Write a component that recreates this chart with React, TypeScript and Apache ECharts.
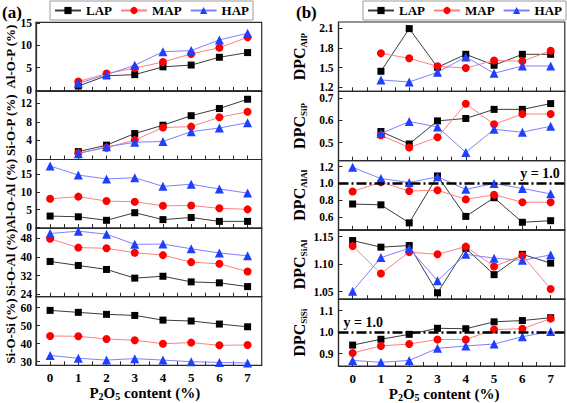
import React, { useEffect, useRef } from 'react';
import * as echarts from 'echarts';

// ---------- data ----------
const contents = [0, 1, 2, 3, 4, 5, 6, 7];
const seriesNames = ['LAP', 'MAP', 'HAP'];

// (a) bond fractions (%)
const alopLAP = [null, 0.9, 3.2, 3.45, 5.2, 5.6, 7.35, 8.4];
const alopMAP = [null, 1.9, 3.7, 4.9, 6.3, 8.1, 9.5, 11.85];
const alopHAP = [null, 1.5, 3.45, 5.55, 8.6, 8.85, 11.25, 12.75];

const siopLAP = [null, 1.6, 3.0, 5.5, 7.3, 9.35, 10.9, 12.9];
const siopMAP = [null, 1.3, 2.45, 4.1, 6.8, 7.0, 9.0, 10.2];
const siopHAP = [null, 1.15, 2.65, 3.6, 3.8, 5.9, 6.7, 7.85];

const aloalLAP = [3.2, 3.0, 2.0, 4.15, 2.2, 2.8, 1.7, 1.7];
const aloalMAP = [8.1, 8.7, 7.45, 7.25, 6.1, 6.2, 5.4, 5.1];
const aloalHAP = [17.35, 14.8, 13.7, 14.05, 11.6, 12.2, 10.85, 9.7];

const sioalLAP = [38.0, 36.3, 34.6, 30.9, 31.7, 29.3, 28.9, 27.3];
const sioalMAP = [47.7, 43.9, 43.6, 41.7, 40.7, 37.7, 37.0, 33.7];
const sioalHAP = [49.9, 50.9, 49.6, 45.3, 45.4, 43.4, 41.6, 40.4];

const siosiLAP = [58.5, 57.4, 56.3, 55.7, 53.1, 52.6, 50.9, 49.4];
const siosiMAP = [44.3, 44.1, 42.6, 41.9, 40.0, 40.6, 39.1, 39.3];
const siosiHAP = [33.5, 31.9, 30.9, 31.7, 30.9, 30.0, 29.6, 29.3];

// (b) DPC values
const dpcAlPLAP = [null, 1.444, 2.095, 1.505, 1.703, 1.536, 1.703, 1.703];
const dpcAlPMAP = [null, 1.718, 1.642, 1.52, 1.495, 1.61, 1.596, 1.758];
const dpcAlPHAP = [null, 1.312, 1.281, 1.429, 1.663, 1.414, 1.525, 1.525];

const dpcSiPLAP = [null, 0.55, 0.494, 0.598, 0.609, 0.65, 0.65, 0.676];
const dpcSiPMAP = [null, 0.533, 0.478, 0.524, 0.675, 0.583, 0.629, 0.629];
const dpcSiPHAP = [null, 0.541, 0.595, 0.571, 0.456, 0.56, 0.547, 0.574];

const dpcAlAlLAP = [0.755, 0.745, 0.53, 1.09, 0.607, 0.83, 0.537, 0.556];
const dpcAlAlMAP = [0.905, 1.015, 0.91, 0.92, 0.81, 0.866, 0.776, 0.776];
const dpcAlAlHAP = [1.193, 1.058, 1.012, 1.08, 0.93, 1.0, 0.94, 0.876];

const dpcSiAlLAP = [1.143, 1.131, 1.134, 1.048, 1.129, 1.081, 1.118, 1.102];
const dpcSiAlMAP = [1.133, 1.083, 1.122, 1.118, 1.132, 1.096, 1.116, 1.055];
const dpcSiAlHAP = [1.051, 1.112, 1.129, 1.07, 1.118, 1.111, 1.107, 1.117];

const dpcSiSiLAP = [0.94, 0.967, 0.99, 1.018, 1.016, 1.048, 1.054, 1.067];
const dpcSiSiMAP = [0.903, 0.936, 0.945, 0.966, 0.966, 1.012, 1.016, 1.063];
const dpcSiSiHAP = [0.869, 0.86, 0.869, 0.925, 0.936, 0.945, 0.979, 1.003];

// tick labels
const ticksAlOP = [0, 5, 10, 15];
const ticksSiOP = [0, 4, 8, 12];
const ticksAlOAl = [0, 5, 10, 15];
const ticksSiOAl = [24, 32, 40, 48];
const ticksSiOSi = [30, 40, 50, 60];
const ticksDpcAlP = [1.2, 1.5, 1.8, 2.1];
const ticksDpcSiP = [0.5, 0.6, 0.7];
const ticksDpcAlAl = [0.6, 0.8, 1.0, 1.2];
const ticksDpcSiAl = [1.05, 1.1, 1.15];
const ticksDpcSiSi = [0.9, 1.0, 1.1];
const xMinorTicks = [0, 0.5, 1, 1.5, 2, 2.5, 3, 3.5, 4, 4.5, 5, 5.5, 6, 6.5, 7];
const refLineValue = 1.0;

// ---------- styling ----------
const FONT = 'Liberation Serif';
const styles = [
  { line: '#3c3c3c', fill: '#000000', symbol: 'rect', size: 7 },
  { line: '#ff8080', fill: '#ff0000', symbol: 'circle', size: 8 },
  { line: '#8080ff', fill: '#1f3fff', symbol: 'triangle', size: 9 },
];

const panels = [
  { col: 0, row: 0, name: 'Al-O-P (%)', data: [alopLAP, alopMAP, alopHAP], min: -0.2, max: 15.2, ticks: ticksAlOP, dec: 0 },
  { col: 0, row: 1, name: 'Si-O-P (%)', data: [siopLAP, siopMAP, siopHAP], min: -0.1, max: 14.7, ticks: ticksSiOP, dec: 0 },
  { col: 0, row: 2, name: 'Al-O-Al (%)', data: [aloalLAP, aloalMAP, aloalHAP], min: -0.2, max: 19.2, ticks: ticksAlOAl, dec: 0 },
  { col: 0, row: 3, name: 'Si-O-Al (%)', data: [sioalLAP, sioalMAP, sioalHAP], min: 23, max: 52.2, ticks: ticksSiOAl, dec: 0 },
  { col: 0, row: 4, name: 'Si-O-Si (%)', data: [siosiLAP, siosiMAP, siosiHAP], min: 28, max: 66.1, ticks: ticksSiOSi, dec: 0 },
  { col: 1, row: 0, sub: 'AlP', data: [dpcAlPLAP, dpcAlPMAP, dpcAlPHAP], min: 1.139, max: 2.196, ticks: ticksDpcAlP, dec: 1 },
  { col: 1, row: 1, sub: 'SiP', data: [dpcSiPLAP, dpcSiPMAP, dpcSiPHAP], min: 0.419, max: 0.7315, ticks: ticksDpcSiP, dec: 1 },
  { col: 1, row: 2, sub: 'AlAl', data: [dpcAlAlLAP, dpcAlAlMAP, dpcAlAlHAP], min: 0.446, max: 1.273, ticks: ticksDpcAlAl, dec: 1, ref: 'end' },
  { col: 1, row: 3, sub: 'SiAl', data: [dpcSiAlLAP, dpcSiAlMAP, dpcSiAlHAP], min: 1.0364, max: 1.1624, ticks: ticksDpcSiAl, dec: 2 },
  { col: 1, row: 4, sub: 'SiSi', data: [dpcSiSiLAP, dpcSiSiMAP, dpcSiSiHAP], min: 0.843, max: 1.153, ticks: ticksDpcSiSi, dec: 1, ref: 'start' },
];

const cols = [
  { left: 36, width: 225.7, top: 22.3, height: 68.6, titlePad: 8 },
  { left: 338.5, width: 226.3, top: 22, height: 69.3, titlePad: 15 },
];

const AX = '#2a2a2a';

function buildOption() {
  const grid: any[] = [];
  const xAxis: any[] = [];
  const yAxis: any[] = [];
  const series: any[] = [];
  panels.forEach((p, i) => {
    const c = cols[p.col];
    grid.push({
      left: c.left,
      top: c.top + p.row * c.height,
      width: c.width,
      height: c.height,
      show: true,
      borderColor: AX,
      borderWidth: 1.2,
      containLabel: false,
    });
    const bottom = p.row === 4;
    xAxis.push({
      type: 'value',
      gridIndex: i,
      min: -0.5,
      max: 7.5,
      axisLine: { show: true, onZero: false, lineStyle: { color: AX, width: 1.2 } },
      axisTick: { show: true, inside: true, length: 4, customValues: xMinorTicks, lineStyle: { color: AX } },
      axisLabel: {
        show: bottom,
        customValues: contents,
        margin: 6,
        fontFamily: FONT,
        fontWeight: 'bold',
        fontSize: 13,
        color: '#000',
      },
      splitLine: { show: false },
      name: bottom ? '{a|P}{b|2}{a|O}{b|5}{a| content (%)}' : '',
      nameLocation: 'middle',
      nameGap: 19,
      nameTextStyle: {
        padding: [0, c.titlePad, 0, 0],
        rich: {
          a: { fontFamily: FONT, fontWeight: 'bold', fontSize: 15, color: '#000', lineHeight: 17 },
          b: { fontFamily: FONT, fontWeight: 'bold', fontSize: 10, color: '#000', lineHeight: 11, verticalAlign: 'bottom' },
        },
      },
    });
    const isRight = p.col === 1;
    yAxis.push({
      type: 'value',
      gridIndex: i,
      min: p.min,
      max: p.max,
      axisLine: { show: true, onZero: false, lineStyle: { color: AX, width: 1.2 } },
      axisTick: { show: true, inside: true, length: 4, customValues: p.ticks, lineStyle: { color: AX } },
      axisLabel: {
        customValues: p.ticks,
        formatter: (v: number) => v.toFixed(p.dec),
        margin: isRight ? 5 : 4,
        fontFamily: FONT,
        fontWeight: 'bold',
        fontSize: 11.5,
        lineHeight: 10,
        color: '#000',
      },
      splitLine: { show: false },
      name: isRight ? `{a|DPC}{b|${p.sub}}` : p.name,
      nameLocation: 'middle',
      nameRotate: 90,
      nameGap: isRight ? 30 : 18,
      nameTextStyle: isRight
        ? {
            rich: {
              a: { fontFamily: FONT, fontWeight: 'bold', fontSize: 16, color: '#000', lineHeight: 18 },
              b: { fontFamily: FONT, fontWeight: 'bold', fontSize: 9, color: '#000', lineHeight: 10, verticalAlign: 'bottom' },
            },
          }
        : { fontFamily: FONT, fontWeight: 'bold', fontSize: 13, color: '#000' },
    });
    p.data.forEach((arr, k) => {
      const st = styles[k];
      const s: any = {
        type: 'line',
        name: seriesNames[k],
        xAxisIndex: i,
        yAxisIndex: i,
        data: contents.map((x, j) => [x, arr[j]]),
        symbol: st.symbol,
        symbolSize: st.size,
        connectNulls: false,
        lineStyle: { color: st.line, width: 1 },
        itemStyle: { color: st.fill, borderWidth: 0 },
        z: 3 + k,
      };
      if (p.ref && k === 2) {
        s.markLine = {
          silent: true,
          symbol: ['none', 'none'],
          lineStyle: { color: '#000', width: 2.5, type: [10, 3, 2, 3] },
          label: {
            show: true,
            position: p.ref === 'end' ? 'insideEndTop' : 'insideStartTop',
            formatter: 'y = 1.0',
            fontFamily: FONT,
            fontWeight: 'bold',
            fontSize: 14,
            color: '#000',
            distance: [5, 3],
          },
          data: [{ yAxis: refLineValue }],
          z: 10,
        };
      }
      series.push(s);
    });
  });

  const legendBase = {
    data: seriesNames,
    orient: 'horizontal',
    top: 1,
    width: 200,
    padding: [3, 4, 3, 4],
    itemGap: 8,
    itemWidth: 26,
    itemHeight: 9,
    borderColor: '#9a9a9a',
    borderWidth: 1,
    textStyle: { fontFamily: FONT, fontWeight: 'bold', fontSize: 13, color: '#000' },
  };

  return {
    animation: false,
    backgroundColor: '#fff',
    grid,
    xAxis,
    yAxis,
    series,
    legend: [
      { ...legendBase, left: 50 },
      { ...legendBase, left: 363 },
    ],
    graphic: [
      { type: 'text', left: 2, top: 4, style: { text: '(a)', fontFamily: FONT, fontWeight: 'bold', fontSize: 17, fill: '#000' } },
      { type: 'text', left: 296, top: 4, style: { text: '(b)', fontFamily: FONT, fontWeight: 'bold', fontSize: 17, fill: '#000' } },
    ],
  };
}

export default function App() {
  const ref = useRef<HTMLDivElement>(null);
  useEffect(() => {
    document.body.style.margin = '0';
    const chart = echarts.init(ref.current!, undefined, { renderer: 'svg' });
    chart.setOption(buildOption() as any);
    return () => chart.dispose();
  }, []);
  return <div ref={ref} style={{ width: 567, height: 403, position: 'absolute', left: 0, top: 0 }} />;
}
